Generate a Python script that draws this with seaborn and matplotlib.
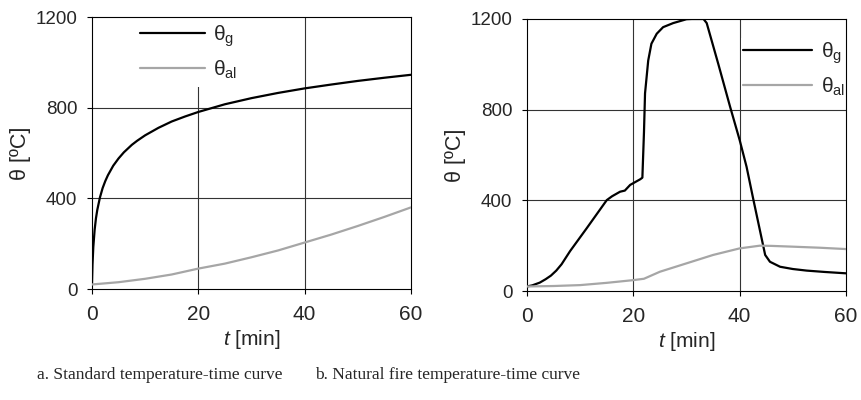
import numpy as np
import pandas as pd
import seaborn as sns
import matplotlib.pyplot as plt

# standard fire curve (ISO 834) and aluminium temperature
std_time = [0, 0.1, 0.25, 0.5, 0.75, 1, 1.5, 2, 2.5, 3, 4, 5, 6, 7.5, 8.5, 10,
            12.5, 15, 17.5, 20, 25, 30, 35, 40, 45, 50, 55, 60]
std_gas = [20, 108, 185, 261, 312, 349, 404, 445, 476, 502, 544, 576, 603, 636,
           654, 678, 711, 739, 761, 781, 815, 842, 865, 885, 902, 918, 932, 945]
std_al_time = [0, 5, 10, 15, 20, 25, 30, 35, 40, 45, 50, 55, 60]
std_al = [20, 30, 45, 64, 90, 112, 140, 170, 205, 240, 278, 318, 360]

# natural fire curve and aluminium temperature
nat_time = [0, 1, 2.4, 3.5, 4.5, 5.5, 6.5, 8.1, 11.2, 15, 16, 17.5, 18.4, 19.4,
            21.3, 21.7, 22.0, 22.2, 22.8, 23.4, 24.4, 25.6, 27.5, 30, 31, 33.2,
            33.8, 36, 38.2, 40, 41.3, 42.6, 44.8, 45.7, 47.6, 50, 52.6, 56, 60]
nat_gas = [20, 25, 37, 52, 68, 90, 118, 176, 276, 401, 418, 438, 443, 468,
           493, 500, 700, 872, 1017, 1091, 1135, 1164, 1182, 1199, 1200, 1200,
           1182, 1000, 813, 666, 548, 401, 159, 129, 107, 97, 90, 84, 78]
nat_al_time = [0, 5, 10, 15, 20, 22, 25, 30, 35, 40, 43.8, 46, 49.5, 55, 60]
nat_al = [20, 22, 26, 36, 48, 54, 85, 122, 159, 188, 200, 199, 196, 191, 185]

x_ticks = [0, 20, 40, 60]
y_ticks = [0, 400, 800, 1200]
captions = ["a. Standard temperature-time curve", "b. Natural fire temperature-time curve"]

sns.set_style("ticks")
plt.rcParams["font.family"] = ["Liberation Sans", "DejaVu Sans"]
plt.rcParams["mathtext.fontset"] = "custom"
plt.rcParams["mathtext.rm"] = "Liberation Sans"
plt.rcParams["mathtext.it"] = "Liberation Sans:italic"

fig = plt.figure(figsize = (8.62, 4.0), dpi = 100)
ax_a = fig.add_axes([0.1067, 0.2775, 0.370, 0.68])
ax_b = fig.add_axes([0.6114, 0.2725, 0.370, 0.68])

gas_label = r"$\mathrm{θ}_\mathrm{g}$"
al_label = r"$\mathrm{θ}_\mathrm{al}$"

std_gas_df = pd.DataFrame({"t": std_time, "T": std_gas})
std_al_df = pd.DataFrame({"t": std_al_time, "T": std_al})
nat_gas_df = pd.DataFrame({"t": nat_time, "T": nat_gas})
nat_al_df = pd.DataFrame({"t": nat_al_time, "T": nat_al})

for ax, gas_df, al_df in [(ax_a, std_gas_df, std_al_df), (ax_b, nat_gas_df, nat_al_df)]:
    sns.lineplot(data = gas_df, x = "t", y = "T", ax = ax, color = "black",
                 linewidth = 1.6, label = gas_label, zorder = 3)
    sns.lineplot(data = al_df, x = "t", y = "T", ax = ax, color = "#a6a6a6",
                 linewidth = 1.6, label = al_label, zorder = 3)
    ax.set_xlim(0, 60)
    ax.set_ylim(0, 1200)
    ax.set_xticks(x_ticks)
    ax.set_yticks(y_ticks)
    ax.tick_params(length = 3.6, width = 0.8, color = "black")
    ax.tick_params(axis = "x", labelsize = 15, pad = 8)
    ax.tick_params(axis = "y", labelsize = 13.5, pad = 7)
    for value in [400, 800]:
        ax.axhline(value, color = "#333333", linewidth = 0.8, zorder = 1)
    for value in [20, 40]:
        ax.axvline(value, color = "#333333", linewidth = 0.8, zorder = 1)
    for spine in ax.spines.values():
        spine.set_visible(True)
        spine.set_color("black")
        spine.set_linewidth(0.8)
    ax.set_xlabel(r"$\mathit{t}$ [min]", fontsize = 15, labelpad = 3)
    ax.set_ylabel("θ [ºC]", fontsize = 15.5, labelpad = 3)

leg_a = ax_a.legend(loc = "center left", bbox_to_anchor = (0.131, 0.871), fontsize = 15,
                    frameon = True, framealpha = 1, edgecolor = "none", fancybox = False,
                    handlelength = 3.1, handletextpad = 0.4, labelspacing = 0.45,
                    borderpad = 0.3, borderaxespad = 0)
leg_b = ax_b.legend(loc = "center left", bbox_to_anchor = (0.672, 0.816), fontsize = 15,
                    frameon = True, framealpha = 1, edgecolor = "none", fancybox = False,
                    handlelength = 3.3, handletextpad = 0.4, labelspacing = 0.45,
                    borderpad = 0.1, borderaxespad = 0)
for leg in [leg_a, leg_b]:
    leg.set_zorder(2)

fig.text(0.1856, 0.0625, captions[0], fontsize = 12.5, family = "Liberation Serif",
         ha = "center", va = "center")
fig.text(0.3655, 0.0625, captions[1], fontsize = 12.5, family = "Liberation Serif",
         ha = "left", va = "center")

fig.savefig("out.png", dpi = 100)
